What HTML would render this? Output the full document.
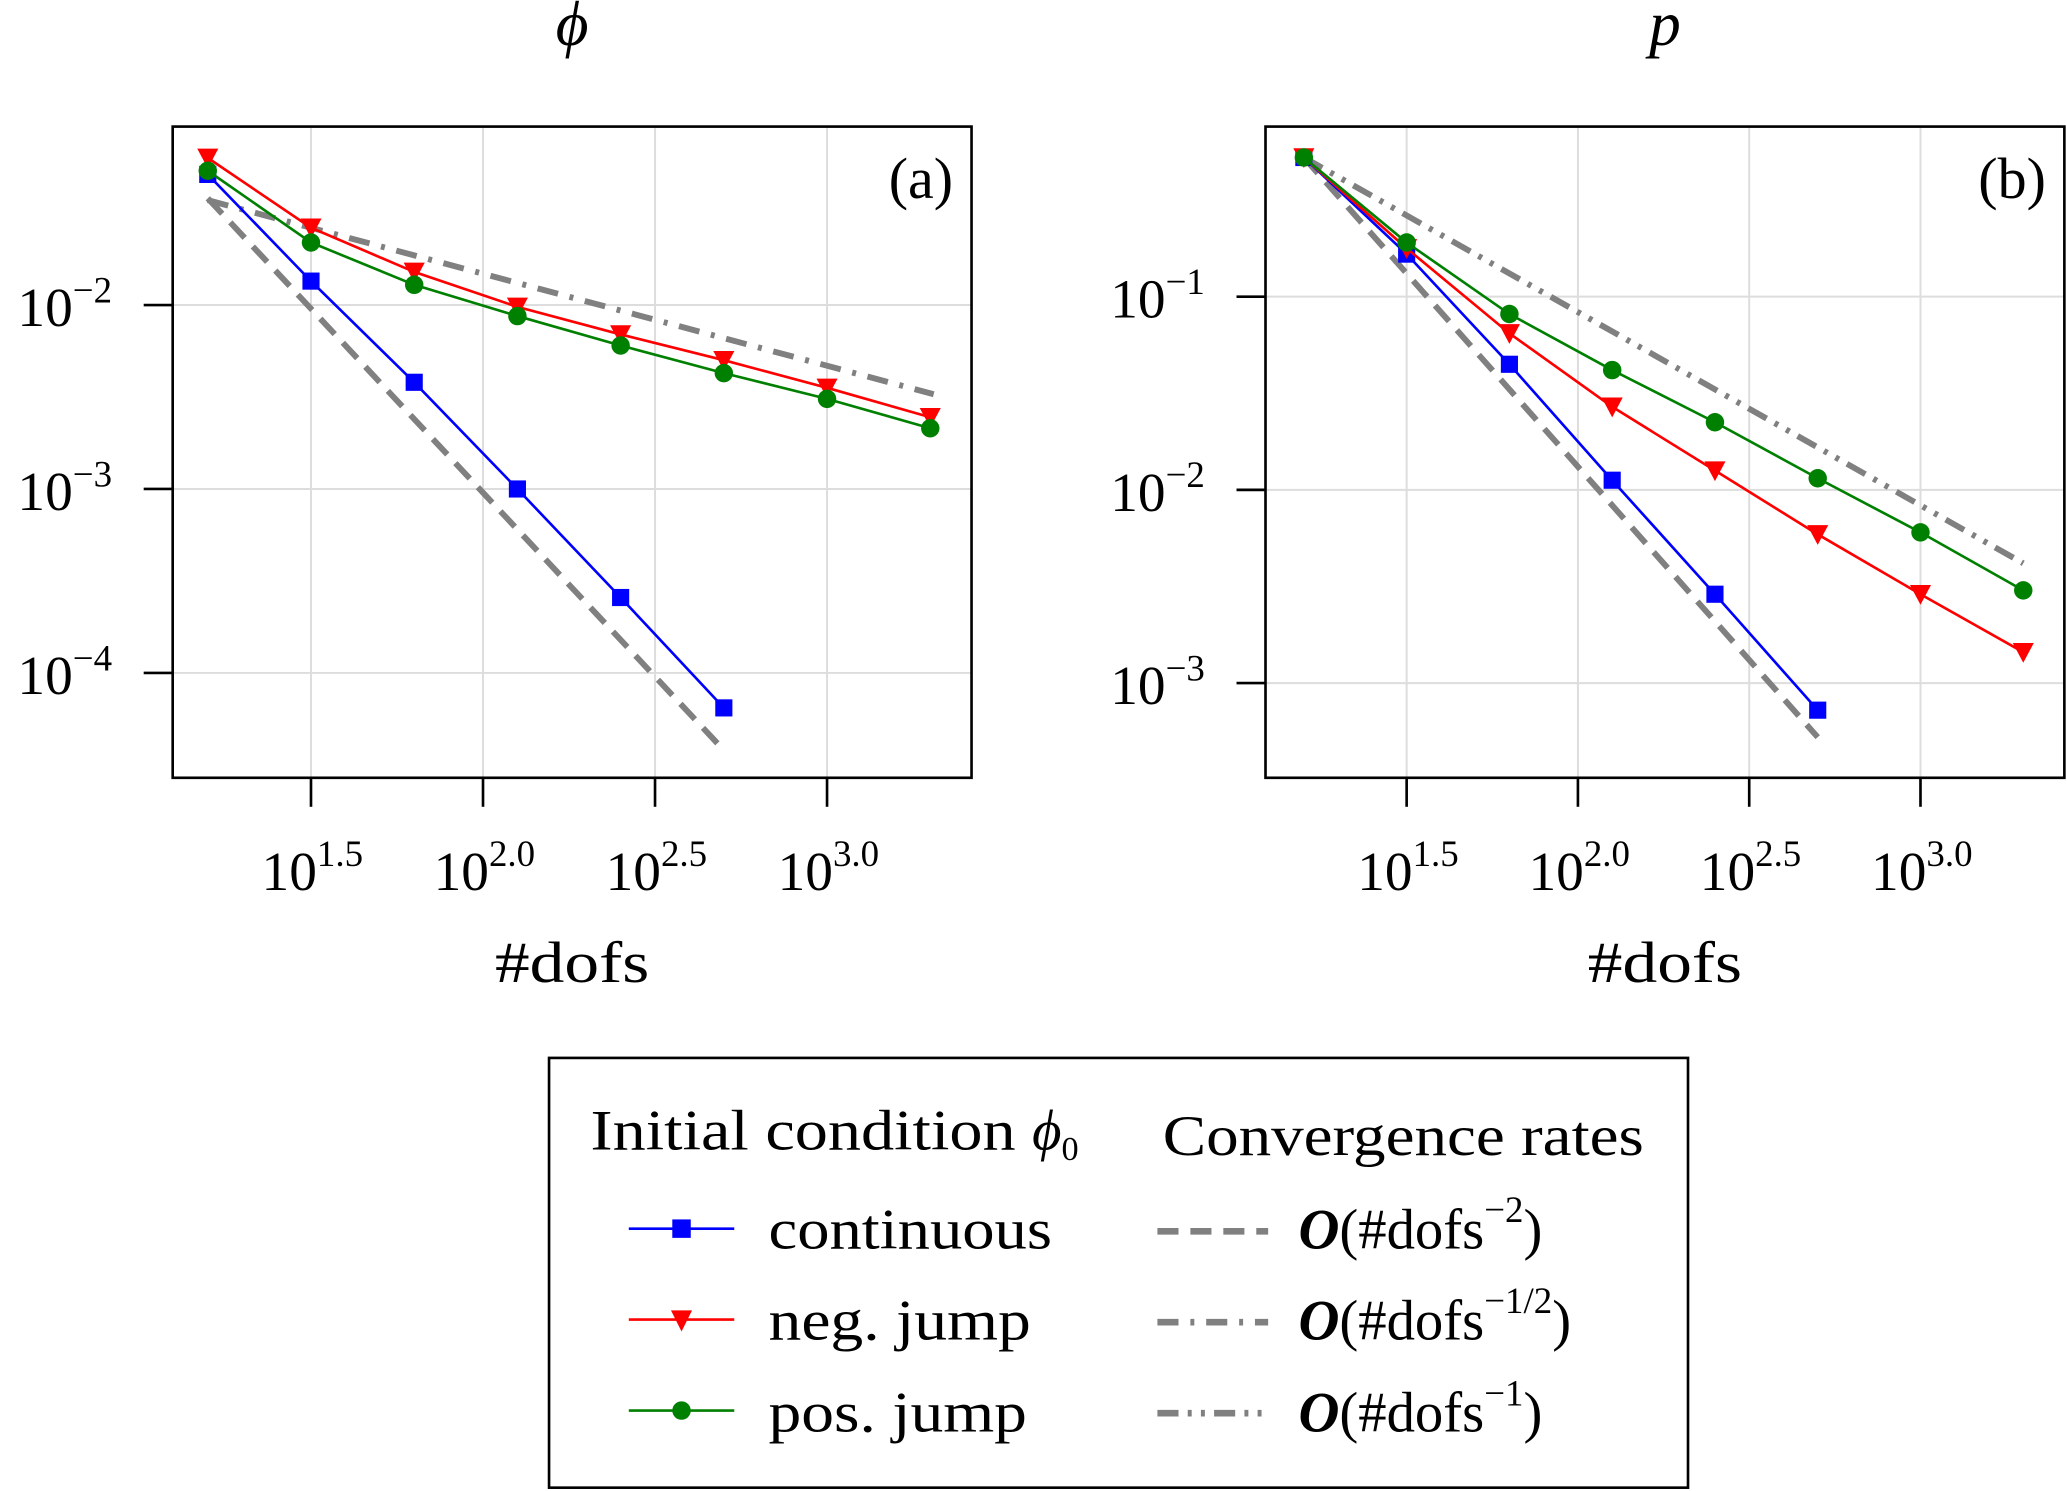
<!DOCTYPE html>
<html><head><meta charset="utf-8"><style>
html,body{margin:0;padding:0;background:#fff;}
svg{display:block;font-family:"Liberation Serif",serif;}
</style></head><body>
<svg id="chart" width="2067" height="1491" viewBox="0 0 1568 1131" xmlns="http://www.w3.org/2000/svg">
<g id="panels"></g>
<g id="legend">
  <rect x="416.5" y="802.5" width="864" height="326" fill="#fff" stroke="#000" stroke-width="2"/>
  <text x="448" y="872" font-size="43"><tspan textLength="335" lengthAdjust="spacingAndGlyphs">Initial condition </tspan><tspan font-style="italic">ϕ</tspan><tspan font-size="26" dy="8">0</tspan></text>
  <text x="882" y="876" font-size="43" textLength="365" lengthAdjust="spacingAndGlyphs">Convergence rates</text>
  <g>
    <line x1="477" y1="932" x2="557" y2="932" stroke="#0000ff" stroke-width="2"/><rect x="510" y="925" width="14" height="14" fill="#0000ff"/>
    <text x="583" y="947" font-size="43" textLength="215" lengthAdjust="spacingAndGlyphs">continuous</text></g>
  <g>
    <line x1="477" y1="1001" x2="557" y2="1001" stroke="#ff0000" stroke-width="2"/><polygon points="509,994 525,994 517,1010" fill="#ff0000"/>
    <text x="583" y="1016" font-size="43" textLength="199" lengthAdjust="spacingAndGlyphs">neg. jump</text></g>
  <g>
    <line x1="477" y1="1070" x2="557" y2="1070" stroke="#008000" stroke-width="2"/><circle cx="517" cy="1070" r="7" fill="#008000"/>
    <text x="583" y="1086" font-size="43" textLength="196" lengthAdjust="spacingAndGlyphs">pos. jump</text></g>
  <g>
    <line x1="878" y1="934" x2="962" y2="934" stroke="#808080" stroke-width="5" stroke-dasharray="16,9"/>
    <text x="985" y="947" font-size="43"><tspan font-style="italic" font-weight="bold">O</tspan>(#dofs<tspan font-size="28" dy="-20">−2</tspan><tspan dy="20">)</tspan></text></g>
  <g>
    <line x1="878" y1="1003" x2="962" y2="1003" stroke="#808080" stroke-width="5" stroke-dasharray="16,9,3,9"/>
    <text x="985" y="1016" font-size="43"><tspan font-style="italic" font-weight="bold">O</tspan>(#dofs<tspan font-size="28" dy="-20">−1/2</tspan><tspan dy="20">)</tspan></text></g>
  <g>
    <line x1="878" y1="1072" x2="962" y2="1072" stroke="#808080" stroke-width="5" stroke-dasharray="16,7,3,7,3,7"/>
    <text x="985" y="1086" font-size="43"><tspan font-style="italic" font-weight="bold">O</tspan>(#dofs<tspan font-size="28" dy="-20">−1</tspan><tspan dy="20">)</tspan></text></g>
</g>
</svg>
<script>
// data: log10(#dofs) values and log10(error) values
const logDofs = [1.2, 1.5, 1.8, 2.1, 2.4, 2.7, 3.0, 3.3];
const xTickLabels = ["1.5", "2.0", "2.5", "3.0"];
const xTickValues = [1.5, 2.0, 2.5, 3.0];
const phiContinuous = [-1.29, -1.87, -2.42, -3.0, -3.59, -4.19];
const phiNegJump = [-1.20, -1.58, -1.82, -2.01, -2.16, -2.30, -2.45, -2.61];
const phiPosJump = [-1.27, -1.66, -1.89, -2.06, -2.22, -2.37, -2.51, -2.67];
const phiYTicks = [-2, -3, -4];
const pContinuous = [-0.28, -0.78, -1.35, -1.95, -2.54, -3.14];
const pNegJump = [-0.28, -0.75, -1.19, -1.57, -1.90, -2.23, -2.54, -2.84];
const pPosJump = [-0.28, -0.72, -1.09, -1.38, -1.65, -1.94, -2.22, -2.52];
const pYTicks = [-1, -2, -3];
// reference rate lines: [start logx, end logx, start logy, slope]
const phiRefSteep = [1.2, 2.69, -1.42, -2];
const phiRefShallow = [1.2, 3.31, -1.43, -0.5];
const pRefSteep = [1.2, 2.7, -0.28, -2];
const pRefMid = [1.2, 3.3, -0.28, -1];

const NS = "http://www.w3.org/2000/svg";
function mk(tag, attrs, parent){const e=document.createElementNS(NS,tag);for(const k in attrs)e.setAttribute(k,attrs[k]);parent.appendChild(e);return e;}

function panel(cfg){
  const g=mk('g',{},document.getElementById('panels'));
  
  
  const X=v=>cfg.L+(v-cfg.xmin)/(cfg.xmax-cfg.xmin)*(cfg.R-cfg.L);
  const Y=v=>cfg.T+(cfg.ymax-v)/(cfg.ymax-cfg.ymin)*(cfg.B-cfg.T);
  xTickValues.forEach((v,i)=>{
    const gl=mk('line',{x1:X(v),x2:X(v),y1:cfg.T,y2:cfg.B,stroke:'#dddddd','stroke-width':1.5},g);
    
    
    mk('line',{x1:X(v),x2:X(v),y1:cfg.B,y2:cfg.B+22,stroke:'#000','stroke-width':2},g);
    const t=mk('text',{x:X(v)+1,y:cfg.B+85,'font-size':42,'text-anchor':'middle'},g);
    
    
    t.innerHTML='10<tspan font-size="28" dy="-18">'+xTickLabels[i]+'</tspan>';
  });
  cfg.yticks.forEach(v=>{
    const gl=mk('line',{x1:cfg.L,x2:cfg.R,y1:Y(v),y2:Y(v),stroke:'#dddddd','stroke-width':1.5},g);
    
    
    mk('line',{x1:cfg.L-22,x2:cfg.L,y1:Y(v),y2:Y(v),stroke:'#000','stroke-width':2},g);
    const t=mk('text',{x:cfg.L-46,y:Y(v)+16,'font-size':42,'text-anchor':'end'},g);
    
    
    t.innerHTML='10<tspan font-size="28" dy="-18">−'+(-v)+'</tspan>';
  });
  cfg.refs.forEach(r=>{
    const l=mk('line',{x1:X(r.d[0]),y1:Y(r.d[2]),x2:X(r.d[1]),y2:Y(r.d[2]+r.d[3]*(r.d[1]-r.d[0])),stroke:'#808080','stroke-width':4.5,'stroke-dasharray':r.dash},g);
    
    
  });
  cfg.series.forEach(s=>{
    const pts=s.vals.map((v,i)=>X(logDofs[i])+','+Y(v)).join(' ');
    const pl=mk('polyline',{points:pts,fill:'none',stroke:s.color,'stroke-width':2},g);
    
    
    s.vals.forEach((v,i)=>{
      const cx=X(logDofs[i]),cy=Y(v);let m;
      if(s.marker==='s') m=mk('rect',{x:cx-6.5,y:cy-6.5,width:13,height:13,fill:s.color},g);
      else if(s.marker==='v') m=mk('polygon',{points:`${cx-8},${cy-7} ${cx+8},${cy-7} ${cx},${cy+8}`,fill:s.color},g);
      else m=mk('circle',{cx:cx,cy:cy,r:7,fill:s.color},g);
      
      
    });
  });
  const f=mk('rect',{x:cfg.L,y:cfg.T,width:cfg.R-cfg.L,height:cfg.B-cfg.T,fill:'none',stroke:'#000','stroke-width':2},g);
  
  
  const lab=mk('text',{x:cfg.R-14,y:cfg.T+54,'font-size':44,'text-anchor':'end'},g);
  
  
  lab.textContent=cfg.label;
  const ti=mk('text',{x:(cfg.L+cfg.R)/2,y:34,'font-size':48,'font-style':'italic','text-anchor':'middle'},g);
  
  
  ti.textContent=cfg.title;
  const xl=mk('text',{x:(cfg.L+cfg.R)/2,y:745,'font-size':44,'text-anchor':'middle',textLength:117,lengthAdjust:'spacingAndGlyphs'},g);
  
  
  xl.textContent='#dofs';
}
panel({name:'panel-phi',L:131,R:737,T:96,B:590,xmin:1.098,xmax:3.42,ymin:-4.57,ymax:-1.03,yticks:phiYTicks,label:'(a)',title:'ϕ',
  refs:[{d:phiRefSteep,dash:'16,9',name:'rate-2-line'},{d:phiRefShallow,dash:'16,9,3,9',name:'rate-half-line'}],
  series:[{vals:phiContinuous,color:'#0000ff',marker:'s',name:'continuous'},{vals:phiNegJump,color:'#ff0000',marker:'v',name:'neg-jump'},{vals:phiPosJump,color:'#008000',marker:'o',name:'pos-jump'}]});
panel({name:'panel-p',L:960,R:1566,T:96,B:590,xmin:1.088,xmax:3.42,ymin:-3.49,ymax:-0.12,yticks:pYTicks,label:'(b)',title:'p',
  refs:[{d:pRefSteep,dash:'16,9',name:'rate-2-line'},{d:pRefMid,dash:'16,7,3,7,3,7',name:'rate-1-line'}],
  series:[{vals:pContinuous,color:'#0000ff',marker:'s',name:'continuous'},{vals:pNegJump,color:'#ff0000',marker:'v',name:'neg-jump'},{vals:pPosJump,color:'#008000',marker:'o',name:'pos-jump'}]});
</script>
</body></html>
